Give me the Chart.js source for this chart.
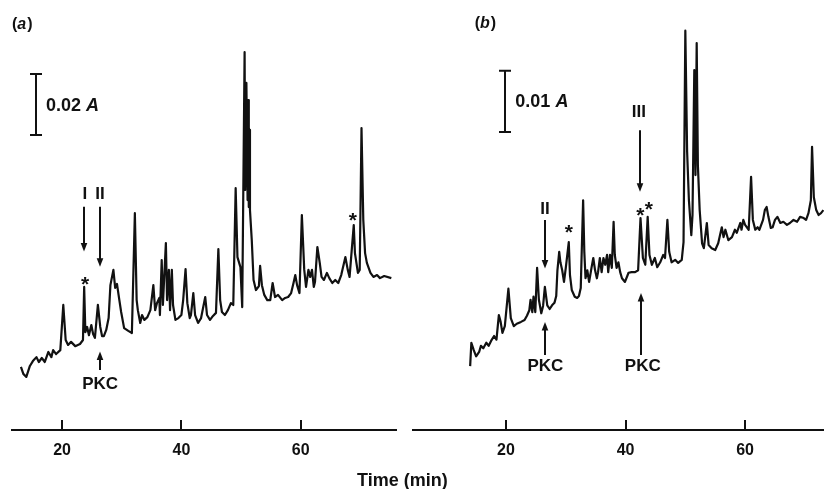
<!DOCTYPE html>
<html>
<head>
<meta charset="utf-8">
<script src="https://cdn.jsdelivr.net/npm/chart.js@4.4.0/dist/chart.umd.min.js"></script>
<style>
  html, body { margin: 0; padding: 0; background: #fff; }
  #wrap { position: relative; width: 824px; height: 489px; overflow: hidden; background: #fff; }
  #ca { position: absolute; left: 0; top: 0; }
  #cb { position: absolute; left: 412px; top: 0; }
  #xtitle { position: absolute; left: 357px; top: 471px; font: bold 18px "Liberation Sans", Arial, sans-serif; line-height: 18px; color: #111; white-space: nowrap; }
</style>
</head>
<body>
<div id="wrap">
  <canvas id="ca" width="412" height="489"></canvas>
  <canvas id="cb" width="412" height="489"></canvas>
  <div id="xtitle">Time (min)</div>
</div>
<script>
// ---------- data (time in min, absorbance in mA units) ----------
const tickValues = [20, 40, 60];

const timeA = [13.1,13.5,14.0,14.6,15.1,15.7,16.1,16.6,17.1,17.7,
  18.2,18.5,19.0,19.7,20.2,20.6,21.0,21.5,22.2,23.0,
  23.5,23.7,23.9,24.2,24.5,24.9,25.2,25.5,26.0,26.4,
  26.7,27.0,27.4,27.8,28.1,28.6,28.9,29.2,29.6,29.9,
  30.4,31.1,31.7,32.2,32.5,32.7,33.1,33.4,33.8,34.3,
  34.8,35.3,35.6,35.9,36.3,36.4,36.7,36.9,37.1,37.4,
  37.6,37.9,38.1,38.4,38.6,39.0,39.5,40.0,40.3,40.7,
  41.0,41.4,41.6,42.0,42.3,42.8,43.3,44.0,44.3,44.8,
  45.3,45.8,46.2,46.5,46.8,47.3,47.8,48.3,48.7,49.1,
  49.4,49.9,50.2,50.6,50.7,50.9,51.1,51.2,51.3,51.4,
  51.5,51.8,52.1,52.5,53.0,53.2,53.5,53.9,54.4,54.9,
  55.3,55.7,56.2,56.9,57.4,57.9,58.4,58.8,59.1,59.4,
  59.8,60.2,60.6,60.9,61.3,61.6,61.9,62.2,62.4,62.8,
  63.2,63.5,63.9,64.4,64.8,65.3,65.8,66.3,66.8,67.5,
  67.9,68.2,68.9,69.1,69.6,69.9,70.2,70.5,70.8,71.1,
  71.7,72.2,72.8,73.3,74.0,75.2];
const absA = [20.7,18.4,17.4,21.0,22.6,23.9,22.3,23.6,22.3,25.6,
  23.9,26.2,24.9,26.2,41.0,29.5,27.9,28.9,27.5,28.2,
  29.5,46.9,32.1,33.8,31.1,34.4,31.5,30.2,41.0,33.8,
  30.8,30.8,32.8,36.7,47.5,52.5,46.6,47.9,42.6,38.7,
  33.4,32.5,31.8,71.1,42.6,39.3,35.1,37.7,36.1,37.0,
  39.3,47.5,39.3,41.6,43.3,37.7,55.7,41.0,49.2,61.3,
  42.6,52.5,39.3,52.5,41.0,36.1,36.7,37.7,42.6,52.8,
  41.6,36.7,37.7,44.9,37.7,35.1,36.7,43.6,37.7,36.1,
  37.4,38.4,59.3,42.6,38.7,37.7,39.3,41.6,41.0,79.3,
  56.7,53.4,40.3,123.9,78.7,113.8,75.4,108.2,73.1,98.4,
  72.1,62.3,49.2,45.9,47.2,53.8,47.5,44.3,42.6,42.6,
  48.2,43.6,44.3,42.6,43.3,43.6,44.9,48.2,50.8,47.5,
  44.9,70.5,52.5,46.9,52.5,50.2,52.5,46.9,48.5,60.0,
  54.8,50.2,49.2,51.5,49.8,48.2,49.2,48.2,50.8,56.7,
  52.5,50.2,67.2,58.0,51.5,52.5,99.0,68.9,58.0,54.8,
  51.5,50.2,50.8,49.8,50.5,49.8];

const timeB = [14.0,14.2,14.6,15.0,15.5,15.8,16.2,16.7,17.1,17.5,
  18.0,18.4,18.8,19.1,19.4,19.8,20.4,20.8,21.3,21.8,
  22.5,23.1,23.5,23.9,24.1,24.4,24.6,24.9,25.2,25.5,
  25.9,26.2,26.5,26.9,27.3,27.7,28.1,28.4,28.6,28.9,
  29.1,29.4,29.7,30.0,30.5,30.7,31.0,31.5,31.9,32.2,
  32.5,32.9,33.1,33.3,33.6,33.9,34.3,34.6,34.9,35.2,
  35.4,35.7,36.0,36.3,36.6,36.9,37.1,37.4,37.7,38.0,
  38.2,38.5,38.8,39.1,39.4,39.9,40.5,41.0,41.6,42.1,
  42.5,42.9,43.3,43.7,44.0,44.4,44.9,45.3,45.8,46.3,
  46.6,47.0,47.3,47.7,48.3,48.8,49.4,49.7,50.0,50.3,
  50.6,51.0,51.2,51.5,51.7,51.9,52.1,52.4,52.8,53.1,
  53.6,53.9,54.4,55.0,55.5,56.1,56.4,56.7,57.2,57.8,
  58.3,58.6,59.2,59.4,59.7,60.0,60.6,61.0,61.3,61.7,
  62.1,62.4,63.0,63.3,63.6,63.9,64.3,64.6,65.0,65.4,
  65.9,66.4,67.0,67.5,68.1,68.7,69.2,69.8,70.2,70.6,
  71.0,71.2,71.5,71.9,72.3,72.7,73.1];
const absB = [10.4,14.2,13.0,12.0,12.7,13.7,13.3,14.2,13.7,14.5,
  15.3,14.7,18.7,17.6,15.8,16.9,23.0,18.2,16.9,17.3,
  17.6,17.9,18.6,19.5,21.2,19.2,21.7,19.2,26.4,21.2,
  19.0,20.2,23.3,20.3,19.7,20.3,20.7,21.8,26.0,29.0,
  27.3,26.0,24.1,26.4,30.6,25.2,22.8,21.7,21.5,21.8,
  23.1,37.4,29.0,24.7,26.0,24.1,26.4,28.0,26.0,24.7,
  25.7,28.0,25.7,28.0,26.9,28.5,25.7,28.5,26.4,33.9,
  28.5,26.4,27.3,25.7,24.7,24.1,25.6,25.7,25.7,26.0,
  34.5,28.0,26.9,34.7,28.5,26.9,28.0,26.5,27.3,28.5,
  28.0,34.2,29.0,27.3,27.7,27.2,27.7,30.6,65.0,45.3,
  37.4,31.7,35.0,58.6,41.5,63.0,43.1,35.8,30.4,29.6,
  33.7,30.1,29.6,29.3,30.4,33.0,31.4,32.6,30.9,31.4,
  32.6,32.1,33.7,32.6,34.2,33.4,32.6,41.2,34.2,32.6,
  33.0,32.6,34.2,35.8,36.3,34.7,32.9,33.0,34.2,34.7,
  33.7,33.9,33.4,33.7,34.2,33.9,34.7,34.5,34.2,35.3,
  37.4,46.1,37.9,35.8,35.0,35.3,35.8];

// ---------- annotations (in data units) ----------
const annotA = {
  panel: { x: 11.6, y: 133.0, letter: 'a' },
  scaleBar: { x: 15.6, y0: 96.7, height: 20, labelX: 17.3, value: '0.02' },
  arrows: [ { x: 23.74, from: 73.2, to: 58.5 }, { x: 26.37, from: 73.2, to: 53.5 }, { x: 26.37, from: 19.7, to: 25.7 } ],
  labels: [ { x: 23.8, y: 77.7, text: 'I' }, { x: 26.37, y: 77.7, text: 'II' }, { x: 26.37, y: 15.2, text: 'PKC' } ],
  stars: [ { x: 23.86, y: 49.5 }, { x: 68.75, y: 70.5 } ]
};
const annotB = {
  panel: { x: 14.76, y: 66.1, letter: 'b' },
  scaleBar: { x: 19.88, y0: 48.5, height: 10, labelX: 21.56, value: '0.01' },
  arrows: [ { x: 26.53, from: 34.2, to: 26.3 }, { x: 42.48, from: 48.8, to: 38.8 }, { x: 26.58, from: 12.2, to: 17.6 }, { x: 42.64, from: 12.2, to: 22.3 } ],
  labels: [ { x: 26.53, y: 36.1, text: 'II' }, { x: 42.21, y: 51.8, text: 'III' }, { x: 26.58, y: 10.5, text: 'PKC' }, { x: 42.88, y: 10.5, text: 'PKC' } ],
  stars: [ { x: 30.51, y: 33.1 }, { x: 42.48, y: 35.8 }, { x: 43.88, y: 36.8 } ]
};

const FONT = '"Liberation Sans", Arial, Helvetica, sans-serif';
const INK = '#111';

const marksPlugin = {
  id: 'marks',
  afterDatasetsDraw(chart, args, o) {
    const ctx = chart.ctx;
    const xs = chart.scales.x, ys = chart.scales.y;
    const X = v => xs.getPixelForValue(v);
    const Y = v => ys.getPixelForValue(v);
    ctx.save();
    ctx.fillStyle = INK; ctx.strokeStyle = INK; ctx.lineWidth = 2;
    ctx.lineCap = 'butt';

    // panel label "(a)"
    const p = o.panel;
    let px = X(p.x), py = Y(p.y);
    ctx.textBaseline = 'middle'; ctx.textAlign = 'left';
    ctx.font = 'bold 16px ' + FONT;
    ctx.fillText('(', px, py); px += ctx.measureText('(').width;
    ctx.font = 'italic bold 16px ' + FONT;
    ctx.fillText(p.letter, px, py); px += ctx.measureText(p.letter).width + 1;
    ctx.font = 'bold 16px ' + FONT;
    ctx.fillText(')', px, py);

    // scale bar
    const s = o.scaleBar;
    const sx = Math.round(X(s.x)) , sy0 = Y(s.y0), sy1 = Y(s.y0 + s.height);
    ctx.beginPath();
    ctx.moveTo(sx, sy0); ctx.lineTo(sx, sy1);
    ctx.moveTo(sx - 6, sy0); ctx.lineTo(sx + 6, sy0);
    ctx.moveTo(sx - 6, sy1); ctx.lineTo(sx + 6, sy1);
    ctx.stroke();
    let lx = X(s.labelX); const ly = (sy0 + sy1) / 2 + 1;
    ctx.font = 'bold 18px ' + FONT;
    const t1 = s.value + ' ';
    ctx.fillText(t1, lx, ly); lx += ctx.measureText(t1).width;
    ctx.font = 'italic bold 18px ' + FONT;
    ctx.fillText('A', lx, ly);

    // arrows
    o.arrows.forEach(a => {
      const ax = Math.round(X(a.x)), y0 = Y(a.from), y1 = Y(a.to);
      const dir = Math.sign(y1 - y0);
      ctx.beginPath(); ctx.moveTo(ax, y0); ctx.lineTo(ax, y1 - dir * 6); ctx.stroke();
      ctx.beginPath(); ctx.moveTo(ax, y1); ctx.lineTo(ax - 3.3, y1 - dir * 8.5); ctx.lineTo(ax + 3.3, y1 - dir * 8.5); ctx.closePath(); ctx.fill();
    });

    // labels
    ctx.textAlign = 'center';
    o.labels.forEach(l => {
      ctx.font = 'bold 17px ' + FONT;
      ctx.fillText(l.text, X(l.x), Y(l.y) + 1);
    });

    // asterisks
    ctx.textBaseline = 'alphabetic';
    ctx.font = 'bold 21px ' + FONT;
    o.stars.forEach(st => {
      ctx.fillText('*', X(st.x), Y(st.y) + 12);
    });
    ctx.restore();
  }
};

function makeChart(id, times, values, xMin, xMax, yMax, pad, annot) {
  const pts = times.map((t, i) => ({ x: t, y: values[i] }));
  return new Chart(document.getElementById(id), {
    type: 'line',
    data: { datasets: [{ data: pts, borderColor: INK, borderWidth: 2.2, pointRadius: 0, tension: 0, fill: false, borderJoinStyle: 'round' }] },
    options: {
      responsive: false,
      animation: false,
      events: [],
      layout: { padding: pad },
      plugins: { legend: { display: false }, tooltip: { enabled: false }, marks: annot },
      scales: {
        x: {
          type: 'linear', min: xMin, max: xMax,
          afterBuildTicks: sc => { sc.ticks = tickValues.map(v => ({ value: v })); },
          afterFit: sc => { sc.height = 59; },
          grid: { display: true, drawOnChartArea: false, drawTicks: true, tickLength: -10, color: INK, lineWidth: 2 },
          border: { display: true, color: INK, width: 2 },
          ticks: { color: INK, padding: 21, maxRotation: 0, autoSkip: false, font: { family: FONT, size: 16, weight: 'bold' } }
        },
        y: { display: false, min: 0, max: yMax }
      }
    },
    plugins: [marksPlugin]
  });
}

makeChart('ca', timeA, absA, 11.6, 75.9, 141, { left: 12, right: 16.5, top: 0, bottom: 0 }, annotA);
makeChart('cb', timeB, absB, 4.27, 73.2, 70, { left: 0, right: 0, top: 0, bottom: 0 }, annotB);
</script>
</body>
</html>
